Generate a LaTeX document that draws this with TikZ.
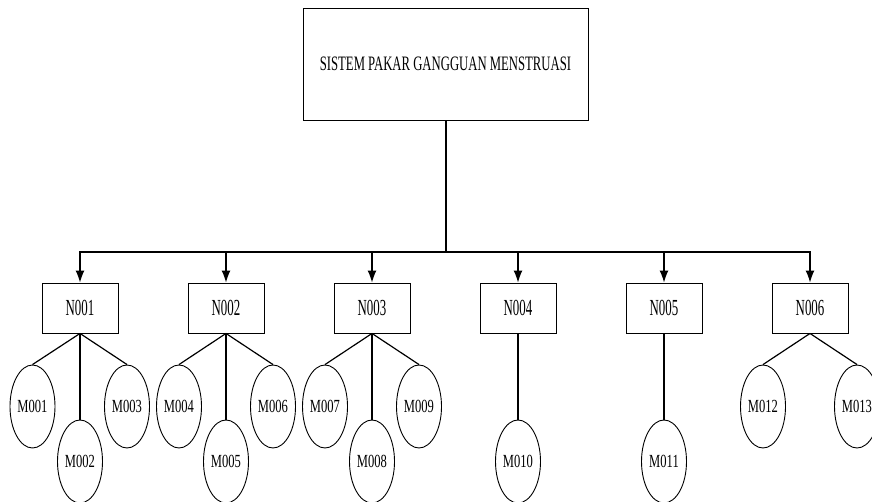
\documentclass[tikz,border=0pt]{standalone}
\usepackage{fontspec}
\setmainfont{Liberation Serif}
\newfontfamily\titlefont[FakeStretch=0.62]{Liberation Serif}
\newfontfamily\nfont[FakeStretch=0.56]{Liberation Serif}
\newfontfamily\mfont[FakeStretch=0.68]{Liberation Serif}
\usetikzlibrary{shapes.geometric,arrows.meta}
\begin{document}
\begin{tikzpicture}[x=1pt,y=-1pt,
  topbox/.style={draw,line width=0.9pt,minimum width=285pt,minimum height=112pt,inner sep=0pt,
     font=\titlefont\fontsize{20.5}{20.5}\selectfont},
  nbox/.style={draw,line width=0.9pt,minimum width=76pt,minimum height=50pt,inner sep=0pt,
     font=\nfont\fontsize{23}{23}\selectfont},
  mell/.style={draw,ellipse,line width=0.9pt,minimum width=45pt,minimum height=83pt,inner sep=0pt,
     font=\mfont\fontsize{18.5}{18.5}\selectfont},
  arr/.style={line width=1.3pt,-{Latex[length=12pt,width=9pt]}},
  link/.style={line width=1.2pt}]
\useasboundingbox (0,0) rectangle (872,502);
\clip (0,0) rectangle (872,502);
\node[topbox] (top) at (445.5,64) {SISTEM PAKAR GANGGUAN MENSTRUASI};
\coordinate (j) at (445.5,252);
\draw[line width=2pt] (top.south) -- (j);
\foreach \i/\x in {1/80,2/226,3/372,4/518,5/664,6/810}{
  \node[nbox] (n\i) at (\x,308) {N00\i};
  \draw[arr] (j) -| (n\i.north);
}
% children
\node[mell] (m1) at (32.5,406.5) {M001};
\node[mell] (m2) at (80,461.5) {M002};
\node[mell] (m3) at (127,406.5) {M003};
\node[mell] (m4) at (179,406.5) {M004};
\node[mell] (m5) at (226,461.5) {M005};
\node[mell] (m6) at (273,406.5) {M006};
\node[mell] (m7) at (325,406.5) {M007};
\node[mell] (m8) at (372,461.5) {M008};
\node[mell] (m9) at (419,406.5) {M009};
\node[mell] (m10) at (518,461.5) {M010};
\node[mell] (m11) at (664,461.5) {M011};
\node[mell] (m12) at (763,406.5) {M012};
\node[mell] (m13) at (857,406.5) {M013};
\foreach \p/\c in {1/1,1/2,1/3,2/4,2/5,2/6,3/7,3/8,3/9,4/10,5/11,6/12,6/13}{
  \draw[link] (n\p.south) -- (m\c.north);
}
\end{tikzpicture}
\end{document}
